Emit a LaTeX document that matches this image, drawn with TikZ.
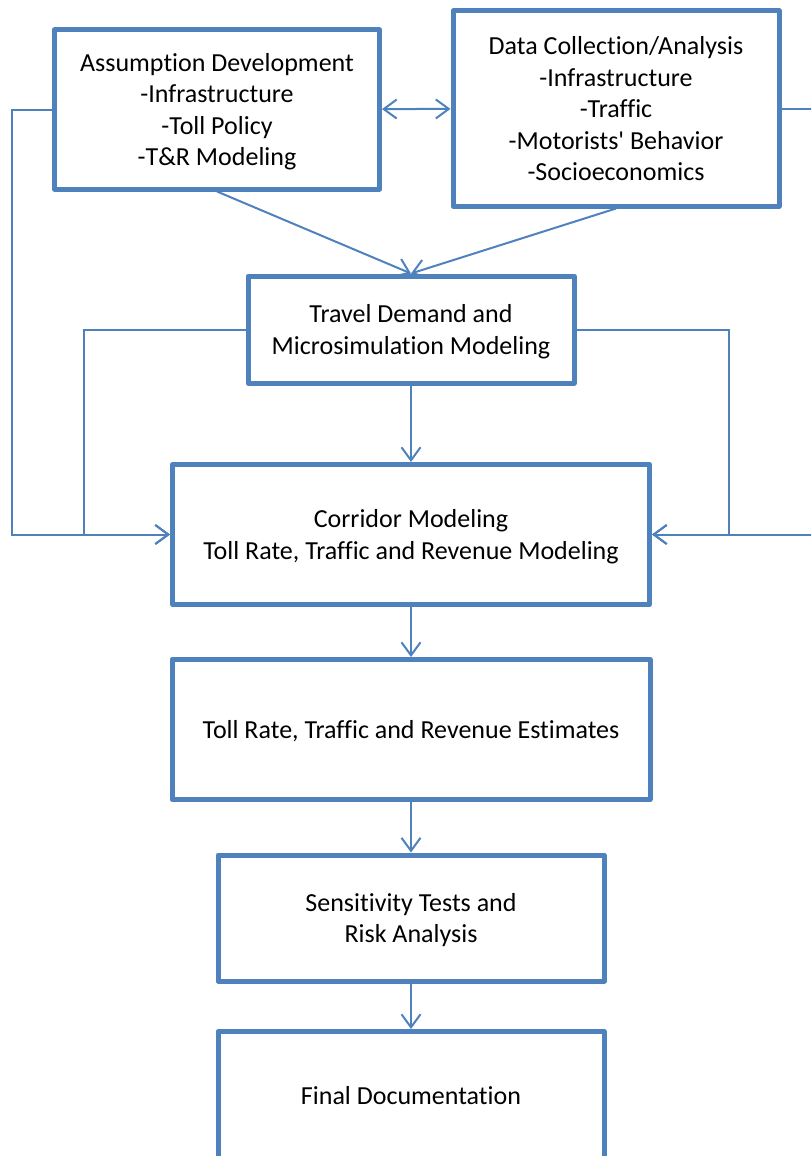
\documentclass[tikz,border=0pt]{standalone}
\usepackage{fontspec}
\setmainfont[Ligatures={TeX,CommonOff}]{Carlito}
\usetikzlibrary{arrows.meta}
\usetikzlibrary{positioning}
\definecolor{boxblue}{HTML}{4F81BD}
\tikzset{
  stage/.style={draw=boxblue, line width=5pt, fill=white, inner sep=0pt,
    align=center, line join=round, text depth=0pt,
    font=\fontsize{26}{31.5}\selectfont},
  link/.style={draw=boxblue, line width=2pt,
    -{Straight Barb[length=13pt,width=19pt]}},
}

\begin{document}
\begin{tikzpicture}[x=1pt,y=-1pt]

    \clip (0,0) rectangle (811,1156); % same size as the reference page

    % the process boxes
    \node[stage, minimum width=325pt, minimum height=159pt] (assume) at (217,109.5)
        {Assumption Development\\-Infrastructure\\-Toll Policy\\-T\&R Modeling};
    \node[stage, minimum width=326pt, minimum height=195pt] (data) at (616,108.5)
        {Data Collection/Analysis\\-Infrastructure\\-Traffic\\-Motorists\textquotesingle{} Behavior\\-Socioeconomics};
    \node[stage, minimum width=326pt, minimum height=107pt] (travel) at (411,329.5)
        {Travel Demand and\\Microsimulation Modeling};
    \node[stage, minimum width=477pt, minimum height=140pt] (corridor) at (411,534.5)
        {Corridor Modeling\\Toll Rate, Traffic and Revenue Modeling};
    \node[stage, minimum width=478pt, minimum height=140pt] (estim) at (411,729.5)
        {Toll Rate, Traffic and Revenue Estimates};
    \node[stage, minimum width=386pt, minimum height=126pt] (sens) at (411,918)
        {Sensitivity Tests and\\Risk Analysis};
    \node[stage, minimum width=386pt, minimum height=127pt] (final) at (411,1095)
        {Final Documentation};

    % corners of the feedback lines
    \coordinate (outL) at (12,534.5);
    \coordinate (inL)  at (84,534.5);
    \coordinate (inR)  at (729,534.5);
    \coordinate (outR) at (830,534.5);

    \draw[link, {Straight Barb[length=13pt,width=19pt]}-{Straight Barb[length=13pt,width=19pt]}]
        (assume) -- (data);
    \draw[link] (assume.south) -- (travel.north);
    \draw[link] (data.south) -- (travel.north);
    \draw[link] (travel) -- (corridor);
    \draw[link] (corridor) -- (estim);
    \draw[link] (estim) -- (sens);
    \draw[link] (sens) -- (final);

    % loops into the corridor box, both sides
    \draw[link] (assume.west) -| (outL) -- (corridor.west);
    \draw[link] (travel.west) -| (inL) -- (corridor.west);
    \draw[link] (data.east) -| (outR) -- (corridor.east);
    \draw[link] (travel.east) -| (inR) -- (corridor.east);

\end{tikzpicture}
\end{document}
